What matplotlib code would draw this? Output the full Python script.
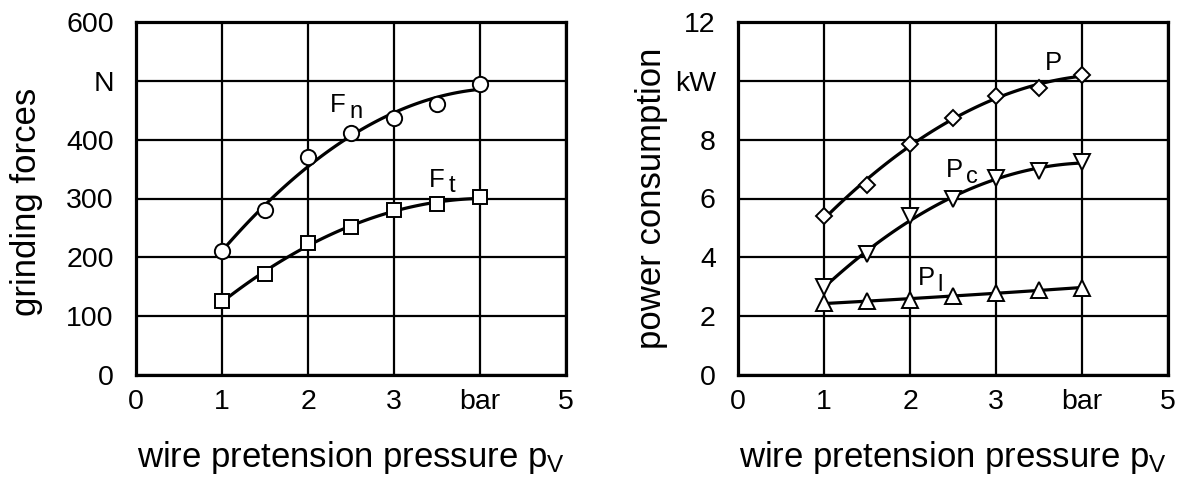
import numpy as np
import matplotlib
matplotlib.use('Agg')
import matplotlib.pyplot as plt

plt.rcParams['font.family'] = 'Liberation Sans'
plt.rcParams['mathtext.fontset'] = 'custom'
plt.rcParams['mathtext.rm'] = 'Liberation Sans'
plt.rcParams['mathtext.it'] = 'Liberation Sans'

### data ###
p = [1, 1.5, 2, 2.5, 3, 3.5, 4]
F_n = [210, 280, 370, 412, 437, 460, 495]
F_t = [125, 172, 225, 252, 280, 290, 302]
P = [5.4, 6.45, 7.85, 8.75, 9.5, 9.75, 10.2]
P_c = [3.0, 4.1, 5.4, 6.0, 6.7, 6.95, 7.25]
P_l = [2.45, 2.5, 2.55, 2.7, 2.8, 2.9, 2.95]

x_ticks = [0, 1, 2, 3, 4, 5]
x_labels = ['0', '1', '2', '3', 'bar', '5']
yl_ticks = [0, 100, 200, 300, 400, 500, 600]
yl_labels = ['0', '100', '200', '300', '400', 'N', '600']
yr_ticks = [0, 2, 4, 6, 8, 10, 12]
yr_labels = ['0', '2', '4', '6', '8', 'kW', '12']


def fitline(ax, x, y, marker, ms):
    c = np.polyfit(x, y, 2)
    xs = np.linspace(min(x), max(x), 100)
    ax.plot(xs, np.polyval(c, xs), color='black', lw=2.3, zorder=3)
    ax.plot(x, y, ls='none', marker=marker, ms=ms, mfc='white', mec='black', mew=1.4, zorder=4)


def style(ax, yt, ylab, ylim):
    ax.set_xlim(0, 5)
    ax.set_ylim(*ylim)
    ax.set_xticks(x_ticks)
    ax.set_xticklabels(x_labels)
    ax.set_yticks(yt)
    ax.set_yticklabels(ylab)
    ax.grid(True, color='black', lw=1.6)
    ax.set_axisbelow(True)
    ax.tick_params(axis='y', length=0, labelsize=20.5, pad=16)
    ax.tick_params(axis='x', length=0, labelsize=20.5, pad=10)
    for s in ax.spines.values():
        s.set_linewidth(2.3)
    ax.set_xlabel('wire pretension pressure p$_\\mathregular{V}$', fontsize=25)
    ax.xaxis.set_label_coords(0.5, -0.18)


def label(ax, x, y, main, sub=''):
    # letter plus a near full size, lowered index
    ax.text(x, y, main, fontsize=18.5, ha='left', va='baseline')
    if sub:
        ax.annotate(sub, xy=(x, y), xytext=(14, -4), textcoords='offset points',
                    fontsize=17, ha='left', va='baseline')


fig = plt.figure(figsize=(11.78, 4.8), dpi=100)
ax1 = fig.add_axes([136/1178, 1 - 375/480, 430/1178, 353/480])
ax2 = fig.add_axes([738/1178, 1 - 375/480, 430/1178, 353/480])

fitline(ax1, p, F_n, 'o', 11)
fitline(ax1, p, F_t, 's', 10.5)
style(ax1, yl_ticks, yl_labels, (0, 600))
ax1.set_ylabel('grinding forces', fontsize=25)
ax1.yaxis.set_label_coords(-0.216, 0.49)
label(ax1, 2.26, 447, 'F', 'n')
label(ax1, 3.41, 320, 'F', 't')

fitline(ax2, p, P, 'D', 8)
fitline(ax2, p, P_c, 'v', 11)
fitline(ax2, p, P_l, '^', 11)
style(ax2, yr_ticks, yr_labels, (0, 12))
ax2.set_ylabel('power consumption', fontsize=25)
ax2.yaxis.set_label_coords(-0.163, 0.5)
label(ax2, 3.57, 10.37, 'P')
label(ax2, 2.42, 6.73, 'P', 'c')
label(ax2, 2.09, 3.06, 'P', 'l')

fig.savefig('out.png', dpi=100)
